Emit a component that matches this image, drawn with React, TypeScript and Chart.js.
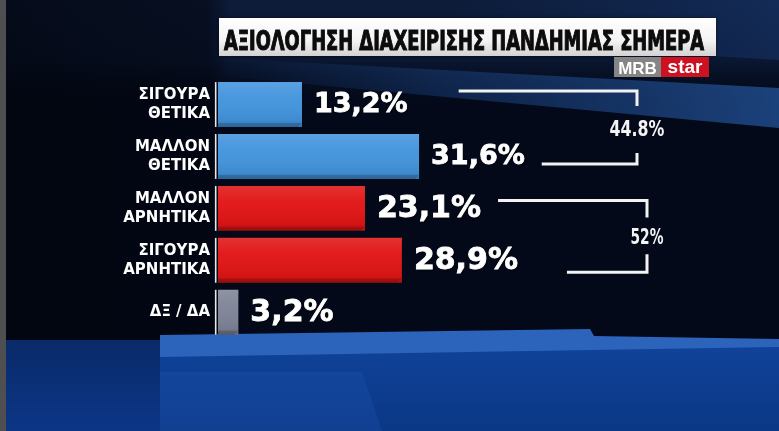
import React, { useEffect, useRef } from "react";
import { Chart, registerables } from "chart.js";

Chart.register(...registerables);

// ---- data ----
const categories: string[][] = [
  ["ΣΙΓΟΥΡΑ", "ΘΕΤΙΚΑ"],
  ["ΜΑΛΛΟΝ", "ΘΕΤΙΚΑ"],
  ["ΜΑΛΛΟΝ", "ΑΡΝΗΤΙΚΑ"],
  ["ΣΙΓΟΥΡΑ", "ΑΡΝΗΤΙΚΑ"],
  ["ΔΞ / ΔΑ"],
];
const values: number[] = [13.2, 31.6, 23.1, 28.9, 3.2];
const barColors: string[] = ["#4394dd", "#4394dd", "#e11515", "#e11515", "#7f8597"];
const groupMembers: number[][] = [
  [0, 1],
  [2, 3],
];
const groupTotals: string[] = ["44.8%", "52%"];
const titleText = "ΑΞΙΟΛΟΓΗΣΗ ΔΙΑΧΕΙΡΙΣΗΣ ΠΑΝΔΗΜΙΑΣ ΣΗΜΕΡΑ";
const logoLeft = "MRB";
const logoRight = "star";

// ---- styling helpers (not data) ----
const valueFontSizes = [27, 27, 30, 30, 30];
const bracketStyle = [
  { topOff: -13.5, botOff: 7.5, topGap: 51, botGap: 17, right: 637, tickTop: 15, tickBot: 11 },
  { topOff: -8, botOff: 12, topGap: 17, botGap: 49, right: 647, tickTop: 17, tickBot: 18 },
];
const NARROW = "'Liberation Sans Narrow', 'DejaVu Sans Condensed', 'Liberation Sans', sans-serif";

const fmt = (v: number) => v.toFixed(1).replace(".", ",") + "%";

const bgPlugin = {
  id: "bg",
  beforeDraw(chart: any) {
    const ctx: CanvasRenderingContext2D = chart.ctx;
    const W = chart.width;
    const H = chart.height;
    ctx.save();
    ctx.fillStyle = "#030919";
    ctx.fillRect(0, 0, W, H);
    let g = ctx.createLinearGradient(0, 0, 0, 110);
    g.addColorStop(0, "#0d1c3a");
    g.addColorStop(0.55, "#0a1731");
    g.addColorStop(1, "rgba(3,9,25,0)");
    ctx.fillStyle = g;
    ctx.fillRect(0, 0, W, 110);
    g = ctx.createLinearGradient(0, 0, 230, 0);
    g.addColorStop(0, "rgba(2,5,14,0.75)");
    g.addColorStop(0.9, "rgba(2,5,14,0.55)");
    g.addColorStop(1, "rgba(2,5,14,0)");
    ctx.fillStyle = g;
    ctx.fillRect(0, 0, 230, 340);
    g = ctx.createLinearGradient(220, 0, W, 0);
    g.addColorStop(0, "rgba(35,85,160,0)");
    g.addColorStop(0.4, "rgba(35,85,160,0.35)");
    g.addColorStop(1, "rgba(40,95,175,0.65)");
    ctx.fillStyle = g;
    ctx.beginPath();
    ctx.moveTo(220, 58);
    ctx.lineTo(W, 88);
    ctx.lineTo(W, 128);
    ctx.lineTo(220, 76);
    ctx.closePath();
    ctx.fill();
    g = ctx.createLinearGradient(450, 0, W, 0);
    g.addColorStop(0, "rgba(30,70,140,0)");
    g.addColorStop(1, "rgba(30,70,140,0.35)");
    ctx.fillStyle = g;
    ctx.beginPath();
    ctx.moveTo(450, 0);
    ctx.lineTo(W, 0);
    ctx.lineTo(W, 60);
    ctx.lineTo(450, 40);
    ctx.closePath();
    ctx.fill();

    g = ctx.createLinearGradient(0, 338, 0, H);
    g.addColorStop(0, "#0a2a68");
    g.addColorStop(1, "#0b3686");
    ctx.fillStyle = g;
    ctx.fillRect(0, 340, 160, H - 340);
    g = ctx.createLinearGradient(0, 350, 0, H);
    g.addColorStop(0, "#0f4298");
    g.addColorStop(1, "#0b3786");
    ctx.fillStyle = g;
    ctx.beginPath();
    ctx.moveTo(160, 356);
    ctx.lineTo(W, 346);
    ctx.lineTo(W, H);
    ctx.lineTo(160, H);
    ctx.closePath();
    ctx.fill();
    ctx.fillStyle = "rgba(45,105,200,0.18)";
    ctx.beginPath();
    ctx.moveTo(160, 372);
    ctx.lineTo(362, 372);
    ctx.lineTo(382, H);
    ctx.lineTo(160, H);
    ctx.closePath();
    ctx.fill();
    ctx.fillStyle = "#2c63bb";
    ctx.beginPath();
    ctx.moveTo(160, 335);
    ctx.lineTo(590, 329);
    ctx.lineTo(594, 336);
    ctx.lineTo(W, 339);
    ctx.lineTo(W, 347);
    ctx.lineTo(160, 357);
    ctx.closePath();
    ctx.fill();
    ctx.fillStyle = "#4f4f52";
    ctx.fillRect(0, 0, 6, H);
    ctx.restore();
  },
};

const overlayPlugin = {
  id: "overlay",
  afterDatasetsDraw(chart: any) {
    const ctx: CanvasRenderingContext2D = chart.ctx;
    const meta = chart.getDatasetMeta(0);
    const ends: number[] = [];
    const centers: number[] = [];
    ctx.save();
    meta.data.forEach((el: any, i: number) => {
      const top = el.y - el.height / 2;
      const bot = el.y + el.height / 2;
      const left = el.base;
      const right = el.x;
      const g = ctx.createLinearGradient(0, top, 0, bot);
      g.addColorStop(0, "rgba(255,255,255,0.12)");
      g.addColorStop(0.35, "rgba(255,255,255,0.03)");
      g.addColorStop(0.85, "rgba(0,0,0,0.06)");
      g.addColorStop(1, "rgba(0,0,0,0.2)");
      ctx.fillStyle = g;
      ctx.fillRect(left, top, right - left, bot - top);
      ctx.fillStyle = "rgba(0,0,0,0.16)";
      ctx.beginPath();
      ctx.moveTo(left, bot - 4);
      ctx.lineTo(right, bot - 4);
      ctx.lineTo(right - 4, bot);
      ctx.lineTo(left, bot);
      ctx.closePath();
      ctx.fill();
      ctx.strokeStyle = "#e8e8e8";
      ctx.lineWidth = 1.6;
      ctx.beginPath();
      ctx.moveTo(left - 2.3, top);
      ctx.lineTo(left - 2.3, bot);
      ctx.stroke();
      const size = valueFontSizes[i] || 30;
      ctx.font = `bold ${size}px 'DejaVu Sans', sans-serif`;
      ctx.textAlign = "left";
      ctx.textBaseline = "alphabetic";
      ctx.shadowColor = "rgba(0,0,0,0.7)";
      ctx.shadowBlur = 3;
      ctx.shadowOffsetX = 1;
      ctx.shadowOffsetY = 1;
      ctx.fillStyle = "#ffffff";
      const txt = fmt(values[i]);
      const tx = right + 12;
      const ty = el.y - 2.5 + size * 0.365;
      ctx.fillText(txt, tx, ty);
      ctx.shadowColor = "rgba(0,0,0,0)";
      ctx.shadowBlur = 0;
      ctx.shadowOffsetX = 0;
      ctx.shadowOffsetY = 0;
      ctx.strokeStyle = "#ffffff";
      ctx.lineWidth = 0.8;
      ctx.strokeText(txt, tx, ty);
      ends.push(tx + ctx.measureText(txt).width);
      centers.push(el.y);
    });

    groupMembers.forEach((m, gi) => {
      const st = bracketStyle[gi];
      const a = m[0];
      const b = m[m.length - 1];
      const yTop = centers[a] + st.topOff;
      const yBot = centers[b] + st.botOff;
      const xr = st.right;
      ctx.strokeStyle = "#f2f2f2";
      ctx.lineWidth = 3;
      ctx.lineCap = "butt";
      ctx.beginPath();
      ctx.moveTo(ends[a] + st.topGap, yTop);
      ctx.lineTo(xr, yTop);
      ctx.lineTo(xr, yTop + st.tickTop);
      ctx.stroke();
      ctx.beginPath();
      ctx.moveTo(ends[b] + st.botGap, yBot);
      ctx.lineTo(xr, yBot);
      ctx.lineTo(xr, yBot - st.tickBot);
      ctx.stroke();
      const label = groupTotals[gi];
      ctx.font = `bold 22px ${NARROW}`;
      ctx.fillStyle = "#f4f4f4";
      ctx.textAlign = "center";
      ctx.textBaseline = "alphabetic";
      const maxW = 11 * label.length;
      ctx.fillText(label, xr, (yTop + yBot) / 2 + 8, maxW);
    });
    ctx.restore();
  },
  afterDraw(chart: any) {
    const ctx: CanvasRenderingContext2D = chart.ctx;
    ctx.save();
    ctx.shadowColor = "rgba(0,0,0,0.5)";
    ctx.shadowBlur = 4;
    const g = ctx.createLinearGradient(0, 18, 0, 56);
    g.addColorStop(0, "#ffffff");
    g.addColorStop(0.6, "#f3f3f3");
    g.addColorStop(1, "#d2d2d2");
    ctx.fillStyle = g;
    ctx.fillRect(219, 18, 497, 38);
    ctx.shadowColor = "rgba(0,0,0,0)";
    ctx.shadowBlur = 0;
    ctx.fillStyle = "#0c0c0c";
    ctx.strokeStyle = "#0c0c0c";
    ctx.lineWidth = 1.1;
    ctx.font = `bold 27px ${NARROW}`;
    ctx.textAlign = "left";
    ctx.textBaseline = "alphabetic";
    ctx.fillText(titleText, 224, 50, 480);
    ctx.strokeText(titleText, 224, 50, 480);
    ctx.fillStyle = "#858585";
    ctx.fillRect(614, 57, 47, 20);
    ctx.fillStyle = "#cc1220";
    ctx.fillRect(661, 57, 48, 20);
    ctx.fillStyle = "#ffffff";
    ctx.textAlign = "center";
    ctx.font = "bold 17px 'Liberation Sans', sans-serif";
    ctx.fillText(logoLeft, 637.5, 73.5, 42);
    ctx.font = "bold 19px 'Liberation Sans', sans-serif";
    ctx.fillText(logoRight, 685, 73, 42);
    ctx.restore();
  },
};

export default function App() {
  const ref = useRef<HTMLCanvasElement>(null);
  useEffect(() => {
    document.body.style.margin = "0";
    const canvas = ref.current;
    if (!canvas) return;
    const chart = new Chart(canvas, {
      type: "bar",
      data: {
        labels: categories,
        datasets: [
          {
            data: values,
            backgroundColor: barColors,
            borderWidth: 0,
            barPercentage: 0.865,
            categoryPercentage: 1,
          },
        ],
      },
      options: {
        indexAxis: "y",
        animation: false,
        responsive: false,
        devicePixelRatio: 1,
        layout: { padding: { left: 0, right: 52, top: 78.6, bottom: 92.8 } },
        plugins: {
          legend: { display: false },
          tooltip: { enabled: false },
          title: { display: false },
        },
        scales: {
          x: { display: false, min: 0, max: 80 },
          y: {
            grid: { display: false, drawTicks: false },
            border: { display: false },
            ticks: {
              color: "#ffffff",
              padding: 8,
              font: { family: "'DejaVu Sans', sans-serif", size: 15, weight: "bold", lineHeight: 1.27 },
            },
            afterFit: (s: any) => {
              s.width = 218;
            },
          },
        },
      } as any,
      plugins: [bgPlugin, overlayPlugin],
    });
    return () => chart.destroy();
  }, []);
  return (
    <div style={{ position: "fixed", left: 0, top: 0, width: 779, height: 431 }}>
      <canvas ref={ref} width={779} height={431} style={{ display: "block", width: 779, height: 431 }} />
    </div>
  );
}
